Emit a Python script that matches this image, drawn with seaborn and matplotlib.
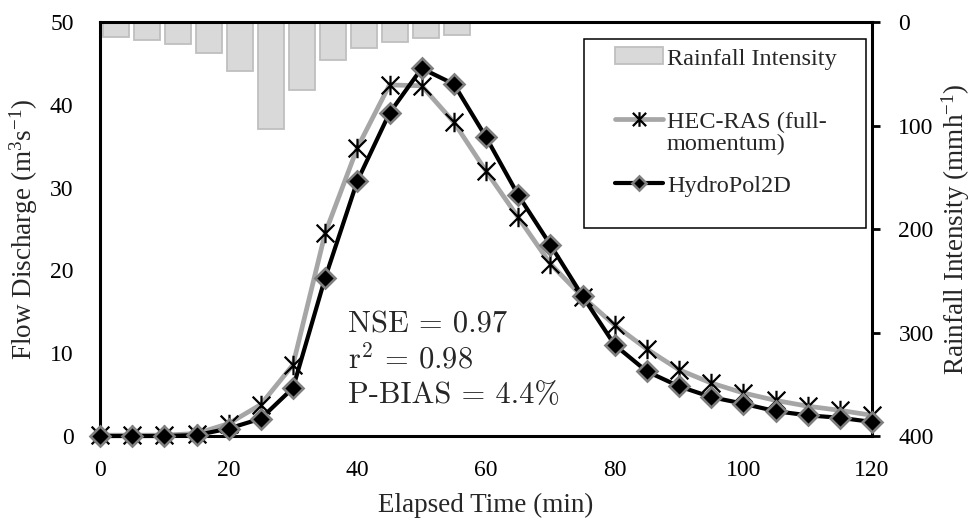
import matplotlib
matplotlib.use("Agg")
import matplotlib.pyplot as plt
import seaborn as sns
import pandas as pd
from matplotlib.path import Path
from matplotlib.transforms import Affine2D
from matplotlib.legend_handler import HandlerLine2D, HandlerPatch
from matplotlib.patches import Patch
from matplotlib.lines import Line2D

# ---------------- data ----------------
time_min = [0, 5, 10, 15, 20, 25, 30, 35, 40, 45, 50, 55, 60,
            65, 70, 75, 80, 85, 90, 95, 100, 105, 110, 115, 120]
hec_ras = [0.1, 0.1, 0.1, 0.3, 1.5, 3.8, 8.6, 24.5, 34.8, 42.4, 42.3, 37.9, 32.0,
           26.4, 20.8, 16.8, 13.4, 10.5, 8.0, 6.4, 5.2, 4.3, 3.6, 3.1, 2.5]
hydropol = [0.0, 0.0, 0.0, 0.1, 0.9, 2.1, 5.8, 19.1, 30.8, 39.0, 44.4, 42.5, 36.1,
            29.1, 23.1, 16.9, 11.0, 7.8, 6.0, 4.7, 3.9, 3.0, 2.5, 2.2, 1.7]
rain_step = list(range(12))
rain_intensity = [14.2, 17.4, 21.6, 29.6, 47.0, 103.7, 65.7, 36.7, 25.4, 19.6, 15.8, 12.9]

x_ticks = [0, 20, 40, 60, 80, 100, 120]
q_ticks = [0, 10, 20, 30, 40, 50]
rain_ticks = [0, 100, 200, 300, 400]

# ---------------- style ----------------
sns.set_style("white")
plt.rcParams["font.family"] = ["Liberation Serif", "DejaVu Serif"]
plt.rcParams["mathtext.fontset"] = "custom"
plt.rcParams["mathtext.rm"] = "Liberation Serif"
plt.rcParams["mathtext.it"] = "Liberation Serif:italic"
plt.rcParams["mathtext.bf"] = "Liberation Serif:bold"
plt.rcParams["axes.unicode_minus"] = False

fig = plt.figure(figsize=(9.73, 5.23), dpi=100)
pos = [100 / 973, 1 - 436 / 523, 772 / 973, 414 / 523]
axb = fig.add_axes(pos)
ax = fig.add_axes(pos)
ax.patch.set_alpha(0)

# ---------------- rainfall bars (secondary axis) ----------------
df_rain = pd.DataFrame({"step": rain_step, "rain": rain_intensity})
sns.barplot(data=df_rain, x="step", y="rain", ax=axb, color="#d9d9d9",
            saturation=1, width=0.85, edgecolor="#bfbfbf", linewidth=1.3)
axb.set_xlim(-0.519, 24.39)
axb.set_ylim(400, 0)
axb.set_yticks(rain_ticks)
axb.yaxis.tick_right()
axb.yaxis.set_label_position("right")
axb.tick_params(axis="x", bottom=False, labelbottom=False)
axb.set_xlabel("")
for s in ["left", "top", "bottom"]:
    axb.spines[s].set_visible(False)
axb.spines["right"].set_linewidth(2.2)
axb.spines["right"].set_color("black")
axb.tick_params(axis="y", direction="out", length=6, width=2, labelsize=17,
                pad=13, colors="black")
axb.set_ylabel("Rainfall Intensity (mmh$^{-1}$)", fontsize=19.5)
axb.yaxis.set_label_coords((939 - 100) / 772, 0.5)

# ---------------- discharge lines ----------------
star = Path([(-1, -1), (1, 1), (-1, 1), (1, -1), (0, -1.1), (0, 1.1)],
            [Path.MOVETO, Path.LINETO] * 3)
sns.lineplot(x=time_min, y=hec_ras, ax=ax, color="#a6a6a6", linewidth=3.4,
             marker=star, markersize=14, markeredgecolor="black",
             markerfacecolor="none", markeredgewidth=1.6, clip_on=False, zorder=3)
sns.lineplot(x=time_min, y=hydropol, ax=ax, color="black", linewidth=3,
             marker="D", markersize=10, markeredgecolor="#7f7f7f",
             markerfacecolor="black", markeredgewidth=1.9, clip_on=False, zorder=4)
l_hec, l_hyd = ax.lines[0], ax.lines[1]

ax.set_xlim(0, 120)
ax.set_ylim(0, 50)
ax.set_xticks(x_ticks)
ax.set_yticks(q_ticks)
ax.spines["right"].set_visible(False)
for s in ["left", "top", "bottom"]:
    ax.spines[s].set_linewidth(2.2)
    ax.spines[s].set_color("black")
ax.tick_params(direction="out", length=6, width=2, labelsize=17, colors="black")
ax.tick_params(axis="y", pad=13)
ax.tick_params(axis="x", pad=11)
ax.set_xlabel("Elapsed Time (min)", fontsize=19.5)
ax.set_ylabel("Flow Discharge (m$^3$s$^{-1}$)", fontsize=19.5)
ax.xaxis.set_label_coords(0.5, -0.138)
ax.yaxis.set_label_coords((40 - 100) / 772, 0.5)

# ---------------- statistics text ----------------
stat_kw = dict(transform=ax.transAxes, fontsize=22, family="cmr10",
               math_fontfamily="cm", va="baseline", ha="left")
ax.text(0.321, 0.251, "NSE = 0.97", **stat_kw)
ax.text(0.321, 0.164, "r$^2$ = 0.98", **stat_kw)
ax.text(0.321, 0.080, "P-BIAS = 4.4%", **stat_kw)


# ---------------- legend ----------------
class UpLine(HandlerLine2D):
    def __init__(self, vis=1.98, dy=0.58, **kw):
        super().__init__(**kw)
        self.vis, self.dy = vis, dy

    def create_artists(self, legend, orig_handle, xdescent, ydescent, width,
                       height, fontsize, trans):
        w = self.vis * fontsize
        t = Affine2D().translate(width - w, self.dy * fontsize) + trans
        return super().create_artists(legend, orig_handle, xdescent, ydescent,
                                      w, height, fontsize, t)


class UpPatch(HandlerPatch):
    def __init__(self, vis=1.98, dy=0.58, **kw):
        super().__init__(**kw)
        self.vis, self.dy = vis, dy

    def create_artists(self, legend, orig_handle, xdescent, ydescent, width,
                       height, fontsize, trans):
        w = self.vis * fontsize
        t = Affine2D().translate(width - w, self.dy * fontsize) + trans
        return super().create_artists(legend, orig_handle, xdescent, ydescent,
                                      w, height, fontsize, t)


h_rain = Patch(facecolor="#d9d9d9", edgecolor="#bfbfbf", linewidth=1.3)
leg = ax.legend([h_rain, l_hec, l_hyd],
                ["Rainfall Intensity\n ", "HEC-RAS (full-\nmomentum)", "HydroPol2D\n "],
                loc="upper left", bbox_to_anchor=(0.627, 0.5, 0.365, 0.459),
                mode="expand", borderaxespad=0, borderpad=0.4,
                handlelength=2.85, handletextpad=0.16, labelspacing=0.85,
                fontsize=17.5, frameon=True, fancybox=False, edgecolor="black",
                framealpha=1, markerscale=0.75,
                handler_map={Patch: UpPatch(), Line2D: UpLine()})
leg.get_frame().set_linewidth(1.1)
for t in leg.get_texts():
    t.set_linespacing(1.05)

fig.savefig("out.png", dpi=100)
